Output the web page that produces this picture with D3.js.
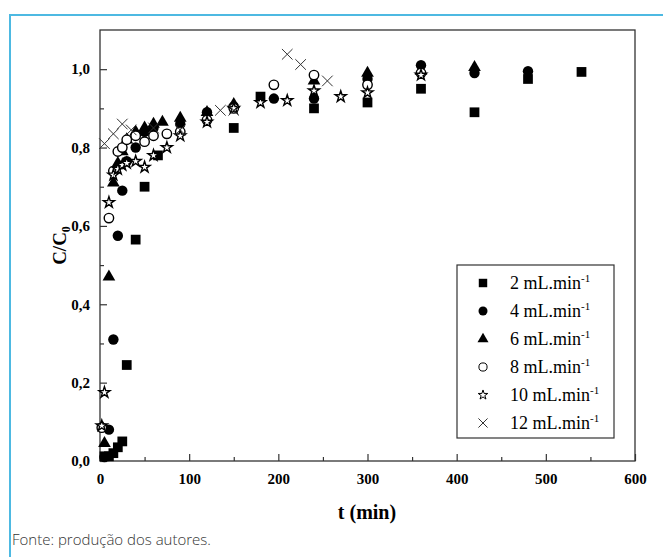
<!DOCTYPE html>
<html>
<head>
<meta charset="utf-8">
<script src="https://cdn.jsdelivr.net/npm/d3@7"></script>
<style>
  body { margin: 0; background: #fff; }
  svg { display: block; }
</style>
</head>
<body>
<svg id="chart" width="663" height="557"></svg>
<script>
/*
**************************************** DATA **************************
*/
// t (min) and C/C0 for each flow rate
var t2  = [5, 10, 15, 20, 25, 30, 40, 50, 65, 150, 180, 240, 300, 360, 420, 480, 540];
var cc2 = [0.012, 0.012, 0.02, 0.035, 0.05, 0.245, 0.565, 0.70, 0.78, 0.85, 0.93, 0.90, 0.915, 0.95, 0.89, 0.975, 0.993];

var t4  = [5, 10, 15, 20, 25, 30, 40, 50, 60, 90, 120, 150, 195, 240, 300, 360, 420, 480];
var cc4 = [0.01, 0.08, 0.31, 0.575, 0.69, 0.765, 0.80, 0.84, 0.85, 0.86, 0.89, 0.905, 0.925, 0.925, 0.975, 1.01, 0.99, 0.995];

var t6  = [5, 10, 15, 20, 25, 30, 40, 50, 60, 70, 90, 120, 150, 240, 300, 360, 420];
var cc6 = [0.045, 0.47, 0.71, 0.76, 0.79, 0.82, 0.84, 0.85, 0.86, 0.865, 0.875, 0.89, 0.91, 0.97, 0.99, 0.995, 1.005];

var t8  = [2, 10, 15, 20, 25, 30, 40, 50, 60, 75, 90, 120, 150, 195, 240, 300, 360];
var cc8 = [0.085, 0.62, 0.74, 0.79, 0.80, 0.82, 0.83, 0.815, 0.83, 0.835, 0.84, 0.87, 0.90, 0.96, 0.985, 0.96, 0.99];

var t10  = [2, 5, 10, 15, 20, 25, 30, 40, 50, 60, 75, 90, 120, 150, 180, 210, 240, 270, 300, 360];
var cc10 = [0.09, 0.175, 0.66, 0.73, 0.745, 0.755, 0.76, 0.765, 0.75, 0.78, 0.80, 0.83, 0.865, 0.90, 0.915, 0.92, 0.945, 0.93, 0.94, 0.985];

var t12  = [5, 15, 25, 35, 60, 90, 135, 150, 210, 225, 255];
var cc12 = [0.81, 0.835, 0.86, 0.845, 0.85, 0.845, 0.895, 0.895, 1.038, 1.012, 0.97];

var seriesNames = ["2", "4", "6", "8", "10", "12"];
var xTicks = [0, 100, 200, 300, 400, 500, 600];
var yTicks = [0, 0.2, 0.4, 0.6, 0.8, 1.0];

/*
**************************************** SETUP **************************
*/
var svg = d3.select("#chart"),
    width = +svg.attr("width"),
    height = +svg.attr("height");

var plot = { left: 100, top: 30, right: 635, bottom: 461 };
var serif = "'Liberation Serif', 'Times New Roman', serif";

var x = d3.scaleLinear().domain([0, 600]).range([plot.left, plot.right]);
var y = d3.scaleLinear().domain([0, 1.1]).range([plot.bottom, plot.top]);

// blue frame of the figure
svg.append("path")
    .attr("d", "M10," + height + "V15H" + width)
    .attr("fill", "none")
    .attr("stroke", "#4db9e2")
    .attr("stroke-width", 2);

// symbol per series
var sym = [
    { type: d3.symbolSquare,   size: 95, fill: "#000", stroke: "none" },
    { type: d3.symbolCircle,   size: 85, fill: "#000", stroke: "none" },
    { type: d3.symbolTriangle, size: 70, fill: "#000", stroke: "none" },
    { type: d3.symbolCircle,   size: 70, fill: "#fff", stroke: "#000" },
    { type: d3.symbolStar,     size: 38, fill: "#fff", stroke: "#000" },
    { type: d3.symbolTimes,    size: 75, fill: "none", stroke: "#333" }
];

var allSeries = [
    d3.zip(t2, cc2), d3.zip(t4, cc4), d3.zip(t6, cc6),
    d3.zip(t8, cc8), d3.zip(t10, cc10), d3.zip(t12, cc12)
];

/*
**************************************** AXES **************************
*/
var xAxis = d3.axisBottom(x).tickValues(xTicks).tickSize(-7).tickSizeOuter(0).tickPadding(12)
    .tickFormat(d3.format("d"));
var xMinor = d3.axisBottom(x).tickValues(d3.range(50, 600, 100)).tickSize(-4).tickSizeOuter(0).tickFormat("");
var yAxis = d3.axisLeft(y).tickValues(yTicks).tickSize(-7).tickSizeOuter(0).tickPadding(10)
    .tickFormat(function (d) { return d3.format(".1f")(d).replace(".", ","); });
var yMinor = d3.axisLeft(y).tickValues(d3.range(0.1, 1.1, 0.2)).tickSize(-4).tickSizeOuter(0).tickFormat("");

function styleAxis(g) {
    g.select(".domain").remove();
    g.selectAll(".tick line").attr("stroke", "#333").attr("stroke-width", 1.2);
    g.selectAll(".tick text")
        .attr("fill", "#000")
        .style("font-family", serif)
        .style("font-weight", "bold")
        .style("font-size", "15px");
}

svg.append("g").attr("transform", "translate(0," + plot.bottom + ")").call(xAxis).call(styleAxis);
svg.append("g").attr("transform", "translate(0," + plot.bottom + ")").call(xMinor).call(styleAxis);
svg.append("g").attr("transform", "translate(" + plot.left + ",0)").call(yAxis).call(styleAxis);
svg.append("g").attr("transform", "translate(" + plot.left + ",0)").call(yMinor).call(styleAxis);

// plot box
svg.append("rect")
    .attr("x", plot.left).attr("y", plot.top)
    .attr("width", plot.right - plot.left).attr("height", plot.bottom - plot.top)
    .attr("fill", "none").attr("stroke", "#333").attr("stroke-width", 1.3);

/*
**************************************** POINTS **************************
*/
allSeries.forEach(function (data, i) {
    var s = sym[i];
    svg.append("g").selectAll("path")
        .data(data)
        .enter().append("path")
        .attr("transform", function (d) { return "translate(" + x(d[0]) + "," + y(d[1]) + ")"; })
        .attr("d", d3.symbol().type(s.type).size(s.size))
        .attr("fill", s.fill)
        .attr("stroke", s.stroke)
        .attr("stroke-width", i === 5 ? 1 : 1.4);
});

/*
**************************************** LABELS **************************
*/
svg.append("text")
    .attr("x", 367).attr("y", 519)
    .attr("text-anchor", "middle")
    .style("font-family", serif).style("font-weight", "bold").style("font-size", "20px")
    .text("t (min)");

var yl = svg.append("text")
    .attr("transform", "translate(66," + ((plot.top + plot.bottom) / 2) + ") rotate(-90)")
    .attr("text-anchor", "middle")
    .style("font-family", serif).style("font-weight", "bold").style("font-size", "19px");
yl.append("tspan").text("C/C");
yl.append("tspan").attr("dy", 4).style("font-size", "12px").text("0");

svg.append("text")
    .attr("x", 12).attr("y", 545)
    .style("font-family", "'Open Sans', sans-serif").style("font-weight", 300).style("font-size", "15px")
    .attr("fill", "#333")
    .text("Fonte: produção dos autores.");

/*
**************************************** LEGEND **************************
*/
var legend = svg.append("g");
legend.append("rect")
    .attr("x", 457).attr("y", 265).attr("width", 157).attr("height", 173)
    .attr("fill", "#fff").attr("stroke", "#333").attr("stroke-width", 1.2);

seriesNames.forEach(function (name, i) {
    var s = sym[i], ly = 283 + i * 28;
    legend.append("path")
        .attr("transform", "translate(483," + ly + ")")
        .attr("d", d3.symbol().type(s.type).size(s.size * 0.75))
        .attr("fill", s.fill).attr("stroke", s.stroke).attr("stroke-width", 1);
    var t = legend.append("text")
        .attr("x", 510).attr("y", ly + 6)
        .style("font-family", serif).style("font-size", "18px");
    t.append("tspan").text(name + " mL.min");
    t.append("tspan").attr("dy", -7).style("font-size", "11px").text("-1");
});
</script>
</body>
</html>
